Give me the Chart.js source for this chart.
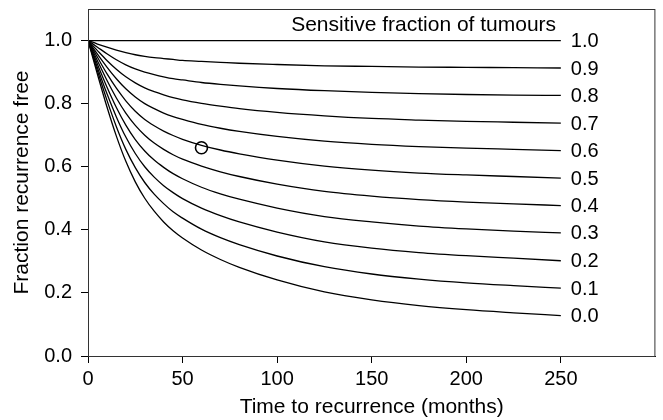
<!DOCTYPE html>
<html>
<head>
<meta charset="utf-8">
<script src="https://cdn.jsdelivr.net/npm/chart.js@4"></script>
<style>
  body { margin: 0; background: #fff; }
</style>
</head>
<body>
<canvas id="chart" width="663" height="420"></canvas>
<script>
// months since treatment
const months = [0, 5, 10, 15, 20, 25, 30, 35, 40, 45, 50, 60, 70, 80, 100, 125, 150, 175, 200, 225, 250];

// fraction recurrence free, one list per sensitive fraction
const sens10 = [1, 1, 1, 1, 1, 1, 1, 1, 1, 1, 1, 1, 1, 1, 1, 1, 1, 1, 1, 1, 1];
const sens09 = [1, 0.989, 0.979, 0.970, 0.962, 0.955, 0.950, 0.946, 0.943, 0.940, 0.937, 0.934, 0.931, 0.928, 0.924, 0.920, 0.918, 0.916, 0.915, 0.914, 0.913];
const sens08 = [1, 0.979, 0.958, 0.939, 0.923, 0.910, 0.900, 0.892, 0.885, 0.879, 0.875, 0.867, 0.861, 0.856, 0.848, 0.841, 0.836, 0.832, 0.829, 0.827, 0.826];
const sens07 = [1, 0.968, 0.937, 0.909, 0.885, 0.866, 0.850, 0.838, 0.828, 0.819, 0.812, 0.801, 0.792, 0.784, 0.772, 0.761, 0.753, 0.748, 0.744, 0.741, 0.738];
const sens06 = [1, 0.957, 0.916, 0.879, 0.847, 0.821, 0.800, 0.784, 0.770, 0.759, 0.750, 0.734, 0.722, 0.712, 0.696, 0.681, 0.671, 0.664, 0.659, 0.655, 0.651];
const sens05 = [1, 0.947, 0.895, 0.849, 0.809, 0.776, 0.750, 0.730, 0.713, 0.699, 0.687, 0.668, 0.653, 0.641, 0.621, 0.602, 0.589, 0.580, 0.574, 0.569, 0.564];
const sens04 = [1, 0.936, 0.874, 0.818, 0.770, 0.731, 0.700, 0.675, 0.655, 0.638, 0.624, 0.602, 0.584, 0.569, 0.545, 0.522, 0.507, 0.496, 0.488, 0.482, 0.477];
const sens03 = [1, 0.925, 0.853, 0.788, 0.732, 0.686, 0.650, 0.621, 0.598, 0.578, 0.562, 0.535, 0.514, 0.497, 0.469, 0.442, 0.425, 0.412, 0.403, 0.396, 0.390];
const sens02 = [1, 0.914, 0.832, 0.758, 0.694, 0.642, 0.600, 0.567, 0.540, 0.518, 0.499, 0.469, 0.445, 0.425, 0.393, 0.362, 0.342, 0.328, 0.318, 0.310, 0.302];
const sens01 = [1, 0.904, 0.811, 0.727, 0.655, 0.597, 0.550, 0.513, 0.483, 0.457, 0.437, 0.402, 0.375, 0.353, 0.317, 0.283, 0.260, 0.244, 0.232, 0.223, 0.215];
const sens00 = [1, 0.893, 0.790, 0.697, 0.617, 0.552, 0.500, 0.459, 0.425, 0.397, 0.374, 0.336, 0.306, 0.281, 0.241, 0.203, 0.178, 0.160, 0.147, 0.137, 0.128];

const curveLabels = ['1.0', '0.9', '0.8', '0.7', '0.6', '0.5', '0.4', '0.3', '0.2', '0.1', '0.0'];
const curves = [sens10, sens09, sens08, sens07, sens06, sens05, sens04, sens03, sens02, sens01, sens00];

// single observed point
const obsMonths = [60];
const obsFree = [0.66];

const xTicks = [0, 50, 100, 150, 200, 250];
const yTicks = [0, 0.2, 0.4, 0.6, 0.8, 1.0];

const FONT = 'Liberation Sans, Arial, Helvetica, sans-serif';
const TICK_SIZE = 20;
const TITLE_SIZE = 21;

const datasets = curves.map((vals, i) => ({
    label: curveLabels[i],
    data: months.map((m, j) => ({ x: m, y: vals[j] })),
    borderColor: '#000',
    borderWidth: 1.3,
    pointRadius: 0,
    fill: false,
    cubicInterpolationMode: 'monotone'
}));

datasets.push({
    label: 'observed',
    data: obsMonths.map((m, j) => ({ x: m, y: obsFree[j] })),
    showLine: false,
    pointRadius: 6,
    pointBorderWidth: 1.6,
    pointBorderColor: '#000',
    pointBackgroundColor: '#fff'
});

// box round the plot, curve names and the heading above them
const decorations = {
    id: 'decorations',
    afterDatasetsDraw(chart) {
        const { ctx, chartArea: a, scales: { x, y } } = chart;
        ctx.save();
        ctx.strokeStyle = '#333';
        ctx.lineWidth = 1;
        ctx.strokeRect(a.left + 0.5, a.top + 0.5, a.right - a.left - 1, a.bottom - a.top);

        ctx.fillStyle = '#000';
        ctx.font = TICK_SIZE + 'px ' + FONT;
        ctx.textBaseline = 'middle';
        ctx.textAlign = 'left';
        curves.forEach((vals, i) => {
            const meta = chart.getDatasetMeta(i);
            const last = meta.data[meta.data.length - 1];
            ctx.fillText(curveLabels[i], last.x + 10, last.y + 1);
        });

        ctx.font = TITLE_SIZE + 'px ' + FONT;
        ctx.textAlign = 'right';
        ctx.fillText('Sensitive fraction of tumours', x.getPixelForValue(247.5), y.getPixelForValue(1.05));
        ctx.restore();
    }
};

// no extra room for the end tick labels, the plot box is fixed
function noLabelPadding(axis) {
    axis.paddingTop = 0;
    axis.paddingBottom = 0;
    axis.paddingLeft = 0;
    axis.paddingRight = 0;
}

new Chart(document.getElementById('chart'), {
    type: 'line',
    data: { datasets: datasets },
    options: {
        responsive: false,
        animation: false,
        layout: { padding: { top: 9, right: 4, left: 0, bottom: 0 } },
        plugins: { legend: { display: false }, tooltip: { enabled: false } },
        scales: {
            x: {
                type: 'linear',
                min: 0,
                max: 300,
                afterBuildTicks: axis => { axis.ticks = xTicks.map(v => ({ value: v })); },
                afterFit: axis => { axis.height = 64; noLabelPadding(axis); },
                grid: { drawOnChartArea: false, drawTicks: true, tickLength: 7, color: '#000' },
                border: { color: '#000', width: 1 },
                ticks: { color: '#000', padding: 4, maxRotation: 0, font: { family: FONT, size: TICK_SIZE } },
                title: {
                    display: true,
                    text: 'Time to recurrence (months)',
                    color: '#000',
                    padding: { top: 0, bottom: 0 },
                    font: { family: FONT, size: TITLE_SIZE }
                }
            },
            y: {
                min: 0,
                max: 1.1,
                afterBuildTicks: axis => { axis.ticks = yTicks.map(v => ({ value: v })); },
                afterFit: axis => { axis.width = 88; noLabelPadding(axis); },
                grid: { drawOnChartArea: false, drawTicks: true, tickLength: 7, color: '#000' },
                border: { color: '#000', width: 1 },
                ticks: {
                    color: '#000',
                    padding: 9,
                    font: { family: FONT, size: TICK_SIZE },
                    callback: v => v.toFixed(1)
                },
                title: {
                    display: true,
                    text: 'Fraction recurrence free',
                    color: '#000',
                    padding: { top: 10, bottom: 0 },
                    font: { family: FONT, size: TITLE_SIZE }
                }
            }
        }
    },
    plugins: [decorations]
});
</script>
</body>
</html>
